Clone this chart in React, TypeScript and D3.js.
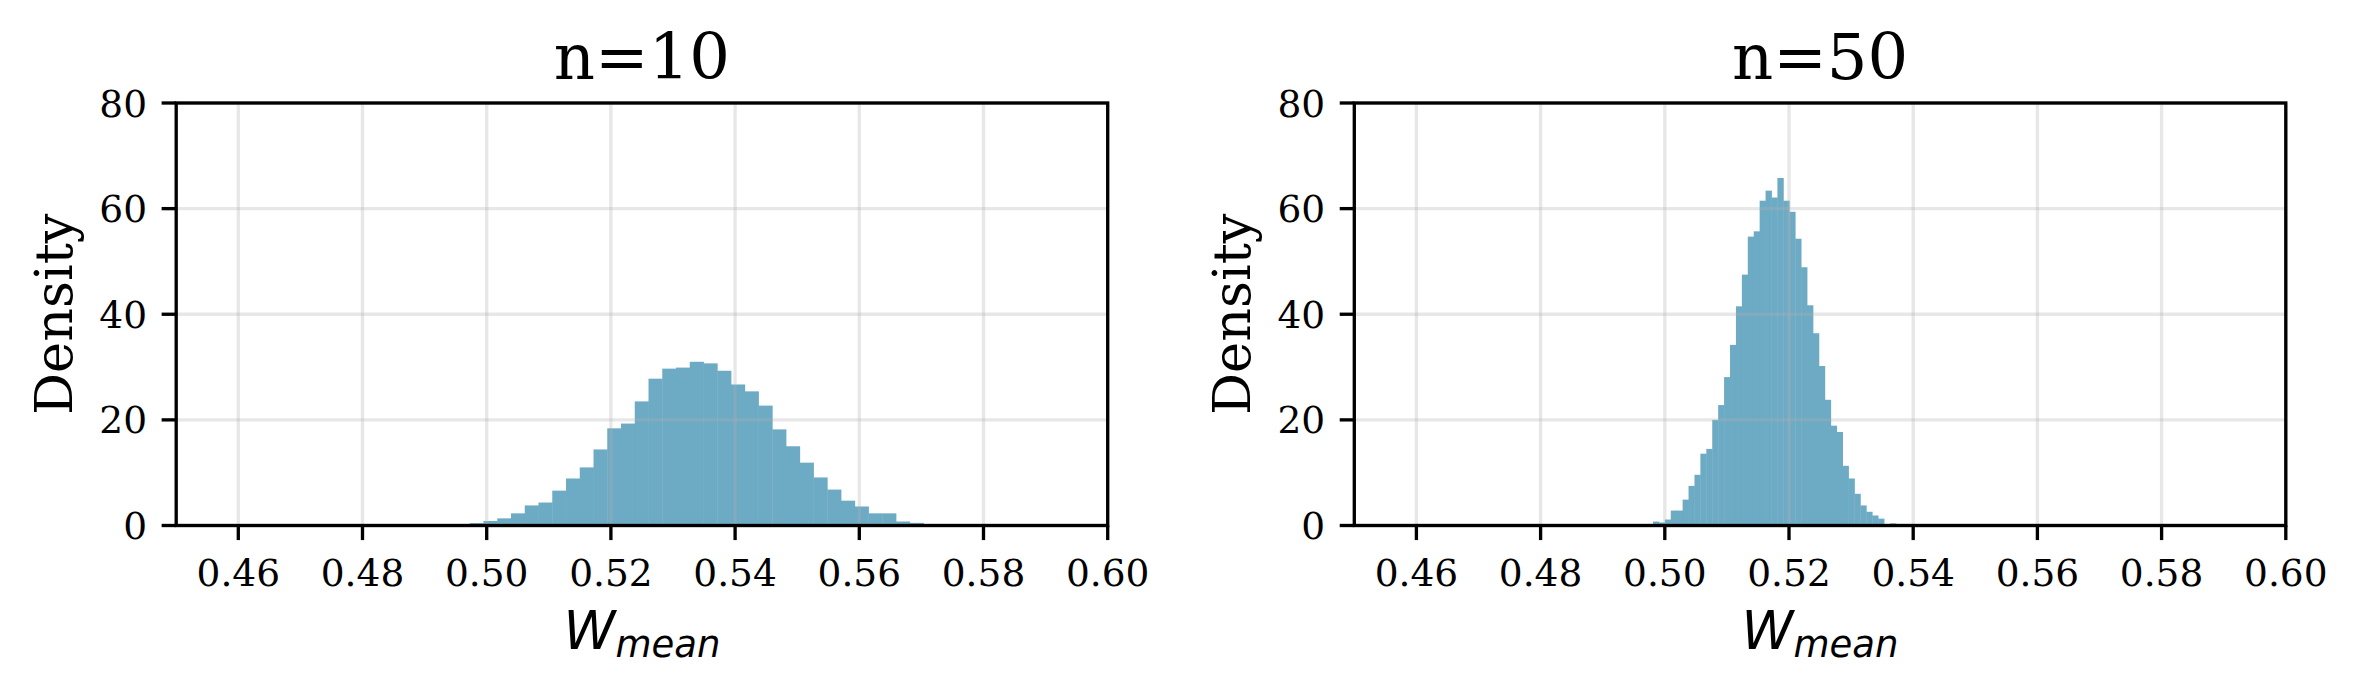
import React from "react";
import * as d3 from "d3";

// ---- data ----
const panelTitles = ["n=10", "n=50"];
const xTicks = [0.46, 0.48, 0.5, 0.52, 0.54, 0.56, 0.58, 0.6];
const xTickLabels = ["0.46", "0.48", "0.50", "0.52", "0.54", "0.56", "0.58", "0.60"];
const yTicks = [0, 20, 40, 60, 80];
const yTickLabels = ["0", "20", "40", "60", "80"];

// n=10 histogram (density), bins start / width
const n10BinStart = 0.49506;
const n10BinWidth = 0.002214;
const n10Density = [
  0.25, 0.45, 0.85, 1.35, 2.3, 3.8, 4.35, 6.6, 8.9, 11.0, 14.4, 18.4, 19.3, 23.5,
  27.8, 29.7, 29.9, 31.0, 30.7, 29.3, 26.7, 25.4, 22.7, 18.2, 15.0, 11.9, 9.1, 6.8,
  4.7, 3.6, 2.3, 2.3, 0.76, 0.5,
];

// n=50 histogram (density)
const n50BinStart = 0.4981;
const n50BinWidth = 0.000954;
const n50Density = [
  0.75, 0.57, 1.13, 2.83, 2.83, 4.9, 7.5, 9.6, 13.6, 14.5, 20.0, 22.8, 28.1, 34.2,
  41.5, 47.5, 54.7, 55.7, 61.5, 63.4, 62.1, 65.8, 61.5, 59.4, 54.3, 48.9, 41.7,
  36.4, 30.2, 23.8, 18.9, 17.7, 11.3, 8.9, 6.0, 3.8, 2.6, 1.9, 1.3, 0, 0.4,
];

const W = 2356;
const H = 690;
const PT = 300 / 72;

type Panel = { title: string; start: number; width: number; dens: number[]; left: number };

const panels: Panel[] = [
  { title: panelTitles[0], start: n10BinStart, width: n10BinWidth, dens: n10Density, left: 176.2 },
  { title: panelTitles[1], start: n50BinStart, width: n50BinWidth, dens: n50Density, left: 1354.3 },
];

const axW = 931.5;
const axTop = 103;
const axBottom = 525.5;
const serif = "'DejaVu Serif', serif";
const sans = "'DejaVu Sans', sans-serif";
const barColor = "#6daac4"; // #2E86AB at alpha 0.7 over white

function PanelView({ p }: { p: Panel }) {
  const x = d3.scaleLinear().domain([0.45, 0.6]).range([p.left, p.left + axW]);
  const y = d3.scaleLinear().domain([0, 80]).range([axBottom, axTop]);
  const cx = p.left + axW / 2;
  const cy = (axTop + axBottom) / 2;
  const tickLen = 3.5 * PT;
  const lw = 0.8 * PT;
  return (
    <g>
      {/* bars */}
      <g>
        {p.dens.map((d, i) => {
          const x0 = x(p.start + i * p.width);
          const x1 = x(p.start + (i + 1) * p.width);
          return d > 0 ? (
            <rect
              key={i}
              x={x0}
              y={y(d)}
              width={x1 - x0 + 0.4}
              height={y(0) - y(d)}
              fill={barColor}
            />
          ) : null;
        })}
      </g>
      {/* grid on top */}
      <g stroke="#b0b0b0" strokeOpacity={0.3} strokeWidth={lw}>
        {xTicks.map((t, i) => (
          <line key={"gx" + i} x1={x(t)} x2={x(t)} y1={axTop} y2={axBottom} />
        ))}
        {yTicks.map((t, i) => (
          <line key={"gy" + i} x1={p.left} x2={p.left + axW} y1={y(t)} y2={y(t)} />
        ))}
      </g>
      {/* spines */}
      <rect
        x={p.left}
        y={axTop}
        width={axW}
        height={axBottom - axTop}
        fill="none"
        stroke="#000"
        strokeWidth={lw}
      />
      {/* x ticks */}
      {xTicks.map((t, i) => (
        <g key={"xt" + i}>
          <line x1={x(t)} x2={x(t)} y1={axBottom} y2={axBottom + tickLen} stroke="#000" strokeWidth={lw} />
          <text x={x(t)} y={586} textAnchor="middle" fontFamily={serif} fontSize={37.5} fill="#000">
            {xTickLabels[i]}
          </text>
        </g>
      ))}
      {/* y ticks */}
      {yTicks.map((t, i) => (
        <g key={"yt" + i}>
          <line x1={p.left - tickLen} x2={p.left} y1={y(t)} y2={y(t)} stroke="#000" strokeWidth={lw} />
          <text
            x={p.left - tickLen - 14.6}
            y={y(t) + 13.6}
            textAnchor="end"
            fontFamily={serif}
            fontSize={37.5}
            fill="#000"
          >
            {yTickLabels[i]}
          </text>
        </g>
      ))}
      {/* title */}
      <text x={cx} y={78.5} textAnchor="middle" fontFamily={serif} fontSize={64} fill="#000">
        {p.title}
      </text>
      {/* y label */}
      <text
        x={p.left - 104.5}
        y={cy}
        transform={`rotate(-90, ${p.left - 104.5}, ${cy})`}
        textAnchor="middle"
        fontFamily={serif}
        fontSize={52.5}
        fill="#000"
      >
        Density
      </text>
      {/* x label */}
      <text x={cx} y={649} textAnchor="middle" fontFamily={sans} fontStyle="italic" fontSize={52.5} fill="#000">
        W
        <tspan fontSize={37} dy={8}>
          mean
        </tspan>
      </text>
    </g>
  );
}

export default function App() {
  return (
    <svg
      width={W}
      height={H}
      viewBox={`0 0 ${W} ${H}`}
      style={{ position: "absolute", left: 0, top: 0, background: "#fff" }}
    >
      <rect x={0} y={0} width={W} height={H} fill="#fff" />
      {panels.map((p, i) => (
        <PanelView key={i} p={p} />
      ))}
    </svg>
  );
}
